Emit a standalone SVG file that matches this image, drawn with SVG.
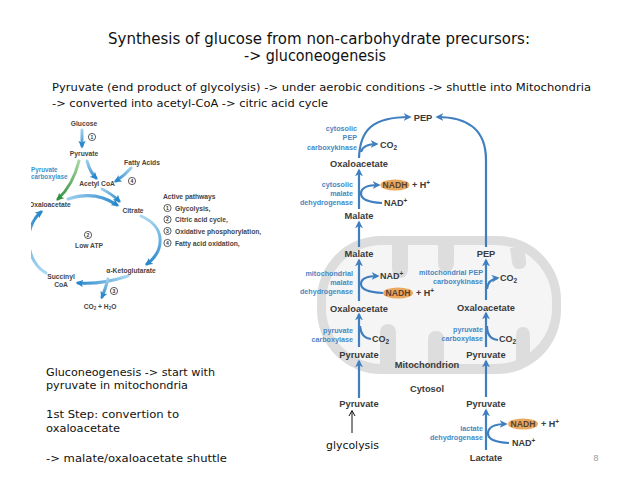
<svg xmlns="http://www.w3.org/2000/svg" width="638" height="479" viewBox="0 0 638 479">
<style>
.hand{font-family:"DejaVu Sans","Noto Sans",sans-serif;fill:#111;}
.dk{font-family:"Liberation Sans",Arial,sans-serif;font-weight:bold;fill:#3a3a3a;font-size:9.3px;text-anchor:middle;}
.bl{font-family:"Liberation Sans",Arial,sans-serif;font-weight:bold;fill:#4a88c4;font-size:7.2px;text-anchor:end;}
.cf{font-family:"Liberation Sans",Arial,sans-serif;font-weight:bold;fill:#3a3a3a;font-size:9px;}
.nadh{font-family:"Liberation Sans",Arial,sans-serif;font-weight:bold;fill:#5a4030;font-size:8.6px;text-anchor:middle;}
.ell{fill:#eaa85e;}
.ar{fill:none;stroke:#3f7fbf;stroke-width:2.2;}
.arm{fill:none;stroke:#3f7fbf;stroke-width:2.2;marker-end:url(#ah);}
.lt{font-family:"Liberation Sans",Arial,sans-serif;font-weight:bold;fill:#454545;font-size:6.7px;}
.lb{font-family:"Liberation Sans",Arial,sans-serif;font-weight:bold;fill:#3d93cc;font-size:6.3px;}
.num{font-family:"Liberation Sans",Arial,sans-serif;font-weight:bold;fill:#333;font-size:5px;text-anchor:middle;}
.circ{fill:#fff;stroke:#333;stroke-width:0.8;}
.la{fill:none;stroke-width:3;stroke-linecap:round;}
.cr{fill:#dddddd;}
</style>
<defs>
<marker id="ah" viewBox="0 0 10 10" refX="8" refY="5" markerWidth="8" markerHeight="8" orient="auto" markerUnits="userSpaceOnUse">
<path d="M0,0 L10,5 L0,10 L3,5 z" fill="#3f7fbf"/>
</marker>
<marker id="lah" viewBox="0 0 10 10" refX="7" refY="5" markerWidth="7.5" markerHeight="7.5" orient="auto" markerUnits="userSpaceOnUse">
<path d="M0,0 L10,5 L0,10 L2.5,5 z" fill="#2a88cc"/>
</marker>
<marker id="lag" viewBox="0 0 10 10" refX="7" refY="5" markerWidth="7.5" markerHeight="7.5" orient="auto" markerUnits="userSpaceOnUse">
<path d="M0,0 L10,5 L0,10 L2.5,5 z" fill="#2f8f3f"/>
</marker>
<linearGradient id="g1" gradientUnits="userSpaceOnUse" x1="0" y1="130" x2="0" y2="148"><stop offset="0" stop-color="#9fd0ef"/><stop offset="1" stop-color="#2a88cc"/></linearGradient>
<linearGradient id="gg" gradientUnits="userSpaceOnUse" x1="79" y1="160" x2="57" y2="200"><stop offset="0" stop-color="#a8d8a0"/><stop offset="1" stop-color="#2f8f3f"/></linearGradient>
<linearGradient id="g3" gradientUnits="userSpaceOnUse" x1="87" y1="160" x2="97" y2="180"><stop offset="0" stop-color="#9fd0ef"/><stop offset="1" stop-color="#2a88cc"/></linearGradient>
<linearGradient id="g4" gradientUnits="userSpaceOnUse" x1="131" y1="168" x2="115" y2="182"><stop offset="0" stop-color="#9fd0ef"/><stop offset="1" stop-color="#2a88cc"/></linearGradient>
<linearGradient id="g5" gradientUnits="userSpaceOnUse" x1="102" y1="188" x2="120" y2="202"><stop offset="0" stop-color="#9fd0ef"/><stop offset="1" stop-color="#2a88cc"/></linearGradient>
<linearGradient id="g6" gradientUnits="userSpaceOnUse" x1="68" y1="0" x2="118" y2="0"><stop offset="0" stop-color="#9fd0ef"/><stop offset="1" stop-color="#2a88cc"/></linearGradient>
<linearGradient id="g7" gradientUnits="userSpaceOnUse" x1="0" y1="216" x2="0" y2="265"><stop offset="0" stop-color="#a9d8f2"/><stop offset="1" stop-color="#2a88cc"/></linearGradient>
<linearGradient id="g8" gradientUnits="userSpaceOnUse" x1="128" y1="0" x2="77" y2="0"><stop offset="0" stop-color="#a9d8f2"/><stop offset="1" stop-color="#2a88cc"/></linearGradient>
<linearGradient id="g9" gradientUnits="userSpaceOnUse" x1="0" y1="279" x2="0" y2="298"><stop offset="0" stop-color="#9fd0ef"/><stop offset="1" stop-color="#2a88cc"/></linearGradient>
<linearGradient id="g10" gradientUnits="userSpaceOnUse" x1="0" y1="272" x2="0" y2="212"><stop offset="0" stop-color="#a9d8f2"/><stop offset="1" stop-color="#2a88cc"/></linearGradient>
<clipPath id="lclip"><rect x="31" y="112" width="252" height="205"/></clipPath>
</defs>

<rect width="638" height="479" fill="#fff"/>

<!-- Headings -->
<g id="title">
<text class="hand" x="319" y="44" font-size="15" text-anchor="middle" textLength="422" lengthAdjust="spacingAndGlyphs">Synthesis of glucose from non-carbohydrate precursors:</text>
<text class="hand" x="315" y="61" font-size="15" text-anchor="middle" textLength="142" lengthAdjust="spacingAndGlyphs">-&gt; gluconeogenesis</text>
</g>
<g id="intro">
<text class="hand" x="52" y="91" font-size="11" textLength="539" lengthAdjust="spacingAndGlyphs">Pyruvate (end product of glycolysis) -&gt; under aerobic conditions -&gt; shuttle into Mitochondria</text>
<text class="hand" x="52" y="107" font-size="11" textLength="276" lengthAdjust="spacingAndGlyphs">-&gt; converted into acetyl-CoA -&gt; citric acid cycle</text>
</g>
<g id="notes">
<text class="hand" x="46" y="376" font-size="11" textLength="169" lengthAdjust="spacingAndGlyphs">Gluconeogenesis -&gt; start with</text>
<text class="hand" x="46" y="389" font-size="11" textLength="142" lengthAdjust="spacingAndGlyphs">pyruvate in mitochondria</text>
<text class="hand" x="46" y="418" font-size="11" textLength="133" lengthAdjust="spacingAndGlyphs">1st Step: convertion to</text>
<text class="hand" x="46" y="432" font-size="11" textLength="74" lengthAdjust="spacingAndGlyphs">oxaloacetate</text>
<text class="hand" x="46" y="462" font-size="11" textLength="181" lengthAdjust="spacingAndGlyphs">-&gt; malate/oxaloacetate  shuttle</text>
</g>
<text id="page-number" x="596" y="461" font-family="Liberation Sans,Arial,sans-serif" font-size="9" fill="#9a9a9a" text-anchor="middle">8</text>

<!-- Left metabolic overview -->
<g id="overview" clip-path="url(#lclip)">
<g id="ov-arrows">
<path class="la" d="M82 130 L82 146" stroke="url(#g1)" marker-end="url(#lah)"/>
<path class="la" d="M79 161 Q73 185 58 199" stroke="url(#gg)" marker-end="url(#lag)"/>
<path class="la" d="M87 161 Q90 172 96 178" stroke="url(#g3)" marker-end="url(#lah)"/>
<path class="la" d="M131 168 Q124 176 116 181" stroke="url(#g4)" marker-end="url(#lah)"/>
<path class="la" d="M102 189 Q112 194 119 201" stroke="url(#g5)" marker-end="url(#lah)"/>
<path class="la" d="M68 199 Q95 190 117 205" stroke="url(#g6)" marker-end="url(#lah)"/>
<path class="la" d="M141 216 C168 228 163 252 147 264" stroke="url(#g7)" marker-end="url(#lah)"/>
<path class="la" d="M128 276 Q100 285 78 283" stroke="url(#g8)" marker-end="url(#lah)"/>
<path class="la" d="M108 279 Q105 290 102 297" stroke="url(#g9)" marker-end="url(#lah)"/>
<path class="la" d="M46 273 C26 262 22 228 41 212" stroke="url(#g10)" marker-end="url(#lah)"/>
</g>
<g id="ov-glucose"><text class="lt" x="84" y="126" text-anchor="middle">Glucose</text></g>
<g id="ov-c1"><circle class="circ" cx="92" cy="137" r="3.6"/><text class="num" x="92" y="138.8">1</text></g>
<g id="ov-pyruvate"><text class="lt" x="84" y="156" text-anchor="middle">Pyruvate</text></g>
<g id="ov-pc"><text class="lb" x="31" y="172">Pyruvate</text><text class="lb" x="31" y="179">carboxylase</text></g>
<g id="ov-fa"><text class="lt" x="142" y="165" text-anchor="middle">Fatty Acids</text></g>
<g id="ov-c4"><circle class="circ" cx="132" cy="181" r="3.6"/><text class="num" x="132" y="182.8">4</text></g>
<g id="ov-acoa"><text class="lt" x="97" y="186" text-anchor="middle">Acetyl CoA</text></g>
<g id="ov-oaa"><text class="lt" x="29" y="206.5">Oxaloacetate</text></g>
<g id="ov-citrate"><text class="lt" x="133" y="212.5" text-anchor="middle">Citrate</text></g>
<g id="ov-lowatp"><circle class="circ" cx="88" cy="235" r="3.6"/><text class="num" x="88" y="236.8">2</text><text class="lt" x="89" y="247.5" text-anchor="middle">Low ATP</text></g>
<g id="ov-akg"><text class="lt" x="131" y="272.5" text-anchor="middle">α-Ketoglutarate</text></g>
<g id="ov-succ"><text class="lt" x="61" y="279" text-anchor="middle">Succinyl</text><text class="lt" x="61" y="287" text-anchor="middle">CoA</text></g>
<g id="ov-c3"><circle class="circ" cx="114" cy="291" r="3.6"/><text class="num" x="114" y="292.8">3</text></g>
<g id="ov-co2"><text class="lt" x="100" y="308.5" text-anchor="middle">CO<tspan font-size="4.5" dy="1.5">2</tspan><tspan dy="-1.5"> + H</tspan><tspan font-size="4.5" dy="1.5">2</tspan><tspan dy="-1.5">O</tspan></text></g>
<g id="ov-legend">
<text class="lt" x="163" y="198.5" font-size="7.1" fill="#222">Active pathways</text>
<circle class="circ" cx="167.5" cy="208" r="3.6"/><text class="num" x="167.5" y="209.8">1</text><text class="lt" x="175" y="210.5" fill="#333">Glycolysis,</text>
<circle class="circ" cx="167.5" cy="219.5" r="3.6"/><text class="num" x="167.5" y="221.3">2</text><text class="lt" x="175" y="222" fill="#333">Citric acid cycle,</text>
<circle class="circ" cx="167.5" cy="231" r="3.6"/><text class="num" x="167.5" y="232.8">3</text><text class="lt" x="175" y="233.5" fill="#333">Oxidative phosphorylation,</text>
<circle class="circ" cx="167.5" cy="243" r="3.6"/><text class="num" x="167.5" y="244.8">4</text><text class="lt" x="175" y="245.5" fill="#333">Fatty acid oxidation,</text>
</g>
</g>

<!-- Mitochondrion -->
<g id="mitochondrion">
<rect x="317" y="236" width="244" height="138" rx="64" ry="64" fill="#dddddd"/>
<rect x="326" y="245" width="226" height="119" rx="56" ry="56" fill="#f5f5f5"/>
<path class="cr" d="M392 245 L392 268 Q392 278 400 278 Q408 278 408 268 L408 245 Z"/>
<path class="cr" d="M438 245 L438 262 Q438 272 446 272 Q454 272 454 262 L454 245 Z"/>
<path class="cr" d="M510 248 L512 262 Q513 270 520 269 Q527 268 526 260 L524 248 Z"/>
<path class="cr" d="M380 364 L380 334 Q380 324 388 324 Q396 324 396 334 L396 364 Z"/>
<path class="cr" d="M428 364 L428 340 Q428 331 436 331 Q444 331 444 340 L444 364 Z"/>
<path class="cr" d="M516 362 L516 336 Q516 327 523 327 Q530 327 530 336 L530 358 Z"/>
<text class="dk" x="427" y="368" font-size="11.6">Mitochondrion</text>
</g>
<text id="cytosol" class="dk" x="427" y="392" font-size="11.3">Cytosol</text>

<!-- Connectors -->
<g id="connectors">
<path class="arm" d="M359 398 L359 361"/>
<path class="arm" d="M359 347 L359 314"/>
<path class="arm" d="M359 301 L359 260"/>
<path class="arm" d="M359 247 L359 222"/>
<path class="arm" d="M359 209 L359 170"/>
<path class="arm" d="M359 158 C360 130 372 117 410 117"/>
<path class="arm" d="M486 397 L486 361"/>
<path class="arm" d="M486 347 L486 313"/>
<path class="arm" d="M486 300 L486 260"/>
<path class="arm" d="M486 450 L486 410"/>
<path class="arm" d="M486 247 L486 160 C486 128 466 117 437 117"/>
<path class="arm" d="M361 152 Q363 144 377 144"/>
<path class="arm" d="M382 203 Q361 202 361 193.5 Q361 185 379 185"/>
<path class="arm" d="M383 293 Q361 292 361 284 Q361 276 378 276"/>
<path class="arm" d="M487 289 Q488 279 498 278"/>
<path class="ar" d="M371 339 Q361 338 360 326"/>
<path class="ar" d="M498 340 Q487 339 487 326"/>
<path class="arm" d="M509 443 Q488 442 488 433.5 Q488 424 506 424"/>
<path d="M352 433 L352 411 M349 416 L352 410.5 L355 416" fill="none" stroke="#111" stroke-width="1"/>
</g>

<!-- Nodes right -->
<g id="pep-top"><text class="dk" x="423" y="120.5">PEP</text></g>
<g id="cyto-pepck"><text class="bl" x="357" y="130.5">cytosolic</text><text class="bl" x="357" y="140">PEP</text><text class="bl" x="357" y="149.5">carboxykinase</text></g>
<g id="co2-cyto"><text class="cf" x="380" y="148">CO<tspan font-size="6.5" dy="2">2</tspan></text></g>
<g id="oaa-cyto"><text class="dk" x="359" y="166.5">Oxaloacetate</text></g>
<g id="cyto-mdh"><text class="bl" x="353" y="186.5">cytosolic</text><text class="bl" x="353" y="195.5">malate</text><text class="bl" x="353" y="204.5">dehydrogenase</text></g>
<g id="nadh-cyto"><ellipse class="ell" cx="395" cy="185" rx="14.5" ry="5.6"/><text class="nadh" x="395" y="188.2">NADH</text><text class="cf" x="412" y="188.2">+ H<tspan font-size="6.5" dy="-3">+</tspan></text></g>
<g id="nad-cyto"><text class="cf" x="384" y="206.3">NAD<tspan font-size="6.5" dy="-3">+</tspan></text></g>
<g id="malate-cyto"><text class="dk" x="359" y="218.5">Malate</text></g>
<g id="malate-mito"><text class="dk" x="359" y="256.5">Malate</text></g>
<g id="pep-mito"><text class="dk" x="486" y="256.5">PEP</text></g>
<g id="mito-mdh"><text class="bl" x="353" y="275.5">mitochondrial</text><text class="bl" x="353" y="284.5">malate</text><text class="bl" x="353" y="294">dehydrogenase</text></g>
<g id="nad-mito"><text class="cf" x="380" y="278.5">NAD<tspan font-size="6.5" dy="-3">+</tspan></text></g>
<g id="nadh-mito"><ellipse class="ell" cx="398" cy="293" rx="15" ry="5.6"/><text class="nadh" x="398" y="296.2">NADH</text><text class="cf" x="416" y="296.2">+ H<tspan font-size="6.5" dy="-3">+</tspan></text></g>
<g id="mito-pepck"><text class="bl" x="483" y="274.5">mitochondrial PEP</text><text class="bl" x="483" y="283.5">carboxykinase</text></g>
<g id="co2-mpepck"><text class="cf" x="500" y="281">CO<tspan font-size="6.5" dy="2">2</tspan></text></g>
<g id="oaa-mito-l"><text class="dk" x="359" y="311.5">Oxaloacetate</text></g>
<g id="oaa-mito-r"><text class="dk" x="486" y="310.5">Oxaloacetate</text></g>
<g id="pc-l"><text class="bl" x="353" y="332.5">pyruvate</text><text class="bl" x="353" y="341.5">carboxylase</text></g>
<g id="co2-pc-l"><text class="cf" x="372" y="341.5">CO<tspan font-size="6.5" dy="2">2</tspan></text></g>
<g id="pc-r"><text class="bl" x="483" y="331.5">pyruvate</text><text class="bl" x="483" y="340.5">carboxylase</text></g>
<g id="co2-pc-r"><text class="cf" x="499" y="342">CO<tspan font-size="6.5" dy="2">2</tspan></text></g>
<g id="pyr-mito-l"><text class="dk" x="359" y="357.5">Pyruvate</text></g>
<g id="pyr-mito-r"><text class="dk" x="486" y="357.5">Pyruvate</text></g>
<g id="pyr-cyto-l"><text class="dk" x="359" y="406.5">Pyruvate</text></g>
<g id="pyr-cyto-r"><text class="dk" x="486" y="406.5">Pyruvate</text></g>
<g id="ldh"><text class="bl" x="483" y="431">lactate</text><text class="bl" x="483" y="440">dehydrogenase</text></g>
<g id="nadh-ldh"><ellipse class="ell" cx="523" cy="424" rx="15" ry="5.6"/><text class="nadh" x="523" y="427.2">NADH</text><text class="cf" x="541" y="427.2">+ H<tspan font-size="6.5" dy="-3">+</tspan></text></g>
<g id="nad-ldh"><text class="cf" x="512" y="446.3">NAD<tspan font-size="6.5" dy="-3">+</tspan></text></g>
<g id="lactate"><text class="dk" x="486" y="460.5">Lactate</text></g>
<g id="glycolysis"><text class="hand" x="326" y="449" font-size="11" textLength="53" lengthAdjust="spacingAndGlyphs">glycolysis</text></g>
</svg>
